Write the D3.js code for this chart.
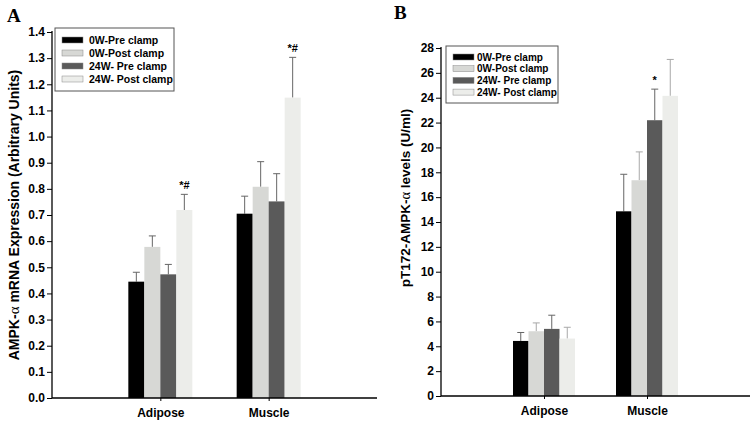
<!DOCTYPE html>
<html><head><meta charset="utf-8">
<script src="https://cdn.jsdelivr.net/npm/d3@7"></script>
<style>body{margin:0;background:#fff}svg{display:block}</style>
</head><body><svg id="c" width="750" height="422" font-family="Arial, 'Liberation Sans', sans-serif" font-weight="bold"></svg>
<script>
const categories = ["Adipose", "Muscle"];
const seriesNames = ["0W-Pre clamp", "0W-Post clamp", "24W- Pre clamp", "24W- Post clamp"];
const seriesColors = ["#000000", "#d7d8d5", "#5a5a5a", "#ecedea"];
// Panel A: AMPK-alpha mRNA expression (per series: [Adipose, Muscle])
const mrnaMean = [[0.445, 0.705], [0.578, 0.808], [0.473, 0.752], [0.719, 1.149]];
const mrnaErr  = [[0.036, 0.067], [0.042, 0.096], [0.038, 0.106], [0.060, 0.154]];
const mrnaSig  = [["", ""], ["", ""], ["", ""], ["*#", "*#"]];
const mrnaTicks = d3.range(0, 1.41, 0.1);
// Panel B: pT172-AMPK-alpha levels (U/ml)
const levelMean = [[4.43, 14.86], [5.21, 17.36], [5.40, 22.19], [4.62, 24.15]];
const levelErr  = [[0.68, 2.98], [0.67, 2.28], [1.10, 2.50], [0.91, 2.93]];
const levelSig  = [["", ""], ["", ""], ["", "*"], ["", ""]];
const levelTicks = d3.range(0, 28.1, 2);

const SANS = "Arial, 'Liberation Sans', sans-serif";
const SERIF = "'Liberation Serif', 'Times New Roman', serif";
const svg = d3.select("#c");

function panel(o) {
  const g = svg.append("g");
  const x = d3.scalePoint().domain(categories).range([o.x0, o.x1]).padding(1);
  const sub = d3.scaleBand().domain(d3.range(seriesNames.length)).range([-o.gw / 2, o.gw / 2]).padding(0);
  const y = d3.scaleLinear().domain(o.domain).range([o.y0, o.y1]);

  o.mean.forEach((vals, si) => {
    vals.forEach((v, ci) => {
      const bx = x(categories[ci]) + sub(si);
      const top = y(v);
      const et = y(v + o.err[si][ci]);
      const cx = bx + sub.bandwidth() / 2;
      const ec = o.errColor[si];
      g.append("line").attr("x1", cx).attr("x2", cx).attr("y1", top).attr("y2", et)
        .attr("stroke", ec).attr("stroke-width", 1);
      g.append("line").attr("x1", cx - 3.5).attr("x2", cx + 3.5).attr("y1", et).attr("y2", et)
        .attr("stroke", ec).attr("stroke-width", 1);
      g.append("rect").attr("x", bx).attr("y", top).attr("width", sub.bandwidth())
        .attr("height", y(0) - top).attr("fill", seriesColors[si]);
      const s = o.sig[si][ci];
      if (s) g.append("text").attr("x", cx).attr("y", et - 5).attr("text-anchor", "middle")
        .attr("font-size", 11).text(s);
    });
  });

  const ya = g.append("g").attr("transform", `translate(${o.x0},0)`)
    .call(d3.axisLeft(y).tickValues(o.ticks).tickFormat(o.fmt).tickSize(5).tickSizeOuter(0))
    .attr("font-family", SANS).attr("font-weight", "bold");
  ya.select(".domain").attr("stroke", "#000").attr("stroke-width", 1.3).attr("d", `M0,${o.y0}V${o.y1 - 1}`);
  ya.selectAll(".tick line").attr("stroke", "#000");
  ya.selectAll(".tick text").attr("font-size", 12).attr("fill", "#000").attr("x", -7);

  const xa = g.append("g").attr("transform", `translate(0,${o.y0})`)
    .call(d3.axisBottom(x).tickSize(3).tickSizeOuter(0))
    .attr("font-family", SANS).attr("font-weight", "bold");
  xa.select(".domain").attr("stroke", "#000").attr("stroke-width", 1.3).attr("d", `M${o.x0},0H${o.x1}`);
  xa.selectAll(".tick line").attr("stroke", "#000");
  xa.selectAll(".tick text").attr("font-size", 12).attr("fill", "#000").attr("dy", 0).attr("y", o.catY);

  const lab = g.append("text").attr("transform", `translate(${o.labX},${o.labY}) rotate(-90)`)
    .attr("text-anchor", "middle").attr("font-size", o.labSize);
  lab.append("tspan").text(o.label[0]);
  lab.append("tspan").attr("font-family", SERIF).attr("font-weight", "normal").attr("font-size", o.labSize + 1).text("α");
  lab.append("tspan").text(o.label[1]);

  g.append("text").attr("x", o.letX).attr("y", o.letY).attr("font-size", 19)
    .attr("font-family", SERIF).attr("font-weight", "bold").text(o.letter);

  const L = o.leg;
  g.append("rect").attr("x", L.x).attr("y", L.y).attr("width", L.w).attr("height", L.h)
    .attr("fill", "#fff").attr("stroke", "#555").attr("stroke-width", 1);
  seriesNames.forEach((n, i) => {
    const ry = L.y + L.first + i * L.dy;
    g.append("rect").attr("x", L.x + 7).attr("y", ry - 3).attr("width", 21).attr("height", 6)
      .attr("fill", seriesColors[i]).attr("stroke", "#888").attr("stroke-width", 0.5);
    g.append("text").attr("x", L.x + L.tx).attr("y", ry + 3.5).attr("font-size", L.fs).text(n);
  });
}

panel({
  x0: 52, x1: 377, y0: 398, y1: 32, gw: 64, domain: [0, 1.4],
  mean: mrnaMean, err: mrnaErr, sig: mrnaSig, ticks: mrnaTicks, fmt: d3.format(".1f"),
  errColor: ["#666", "#666", "#666", "#666"],
  catY: 19, label: ["AMPK-", " mRNA Expression (Arbitrary Units)"], labX: 19, labY: 215, labSize: 14,
  letter: "A", letX: 7, letY: 22,
  leg: { x: 55, y: 28, w: 119, h: 63, first: 12, dy: 13, tx: 34, fs: 10.5 }
});

panel({
  x0: 441, x1: 750, y0: 396, y1: 48, gw: 62, domain: [0, 28],
  mean: levelMean, err: levelErr, sig: levelSig, ticks: levelTicks, fmt: d3.format("d"),
  errColor: ["#666", "#a8a8a8", "#666", "#a8a8a8"],
  catY: 19, label: ["pT172-AMPK-", "  levels (U/ml)"], labX: 410, labY: 198, labSize: 13.5,
  letter: "B", letX: 394, letY: 19,
  leg: { x: 446, y: 46, w: 112, h: 57, first: 11, dy: 11.7, tx: 31, fs: 10 }
});
</script></body></html>
